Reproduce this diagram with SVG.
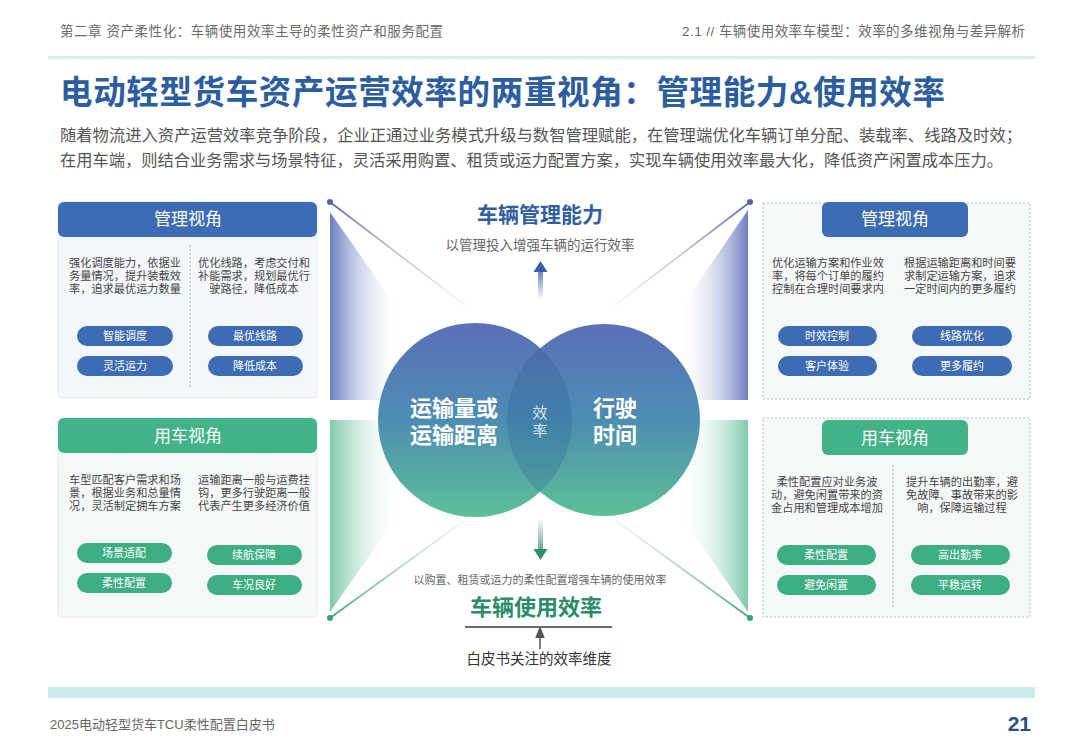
<svg xmlns="http://www.w3.org/2000/svg" width="1080" height="748" viewBox="0 0 1080 748">
<defs>
<style>
text{font-family:"Liberation Sans","Noto Sans CJK SC",sans-serif}
.hdr{font-size:13.5px;fill:#6a6a6a}
.ptxt{font-size:11.2px;fill:#454545;text-anchor:middle}
.phead{font-size:17px;fill:#fff;text-anchor:middle}
.pilltxt{font-size:11px;fill:#fff;text-anchor:middle}
.pb{fill:#3d6cb4}
.pg{fill:#3dae82}
.body{fill:#f3f6fa;stroke:#e5eaf0;stroke-width:1}
.bodyr{fill:#f5f8f8;stroke:#b8bcbc;stroke-width:1;stroke-dasharray:2 2}
.div{stroke:#a8a8a8;stroke-width:1;stroke-dasharray:2 2}
.ctxt{font-size:22px;font-weight:bold;fill:#fff;text-anchor:middle}
</style>
<linearGradient id="circ" x1="0" y1="0" x2="0" y2="1">
<stop offset="0" stop-color="#5b6fb9"/>
<stop offset="0.5" stop-color="#4d8db3"/>
<stop offset="1" stop-color="#5cc096"/>
</linearGradient>
<linearGradient id="wbl" x1="330" y1="0" x2="400" y2="0" gradientUnits="userSpaceOnUse">
<stop offset="0" stop-color="#6d7fc2"/>
<stop offset="1" stop-color="#ffffff" stop-opacity="0"/>
</linearGradient>
<linearGradient id="wbr" x1="748" y1="0" x2="678" y2="0" gradientUnits="userSpaceOnUse">
<stop offset="0" stop-color="#6d7fc2"/>
<stop offset="1" stop-color="#ffffff" stop-opacity="0"/>
</linearGradient>
<linearGradient id="wgl" x1="330" y1="0" x2="400" y2="0" gradientUnits="userSpaceOnUse">
<stop offset="0" stop-color="#7dcaa9"/>
<stop offset="1" stop-color="#ffffff" stop-opacity="0"/>
</linearGradient>
<linearGradient id="wgr" x1="748" y1="0" x2="678" y2="0" gradientUnits="userSpaceOnUse">
<stop offset="0" stop-color="#7dcaa9"/>
<stop offset="1" stop-color="#ffffff" stop-opacity="0"/>
</linearGradient>
<linearGradient id="lnTL" x1="330" y1="202" x2="465" y2="305" gradientUnits="userSpaceOnUse">
<stop offset="0" stop-color="#4d67ad"/>
<stop offset="1" stop-color="#c8cccc" stop-opacity="0.2"/>
</linearGradient>
<linearGradient id="lnTR" x1="750" y1="202" x2="615" y2="305" gradientUnits="userSpaceOnUse">
<stop offset="0" stop-color="#4d67ad"/>
<stop offset="1" stop-color="#c8cccc" stop-opacity="0.2"/>
</linearGradient>
<linearGradient id="lnBL" x1="330" y1="618" x2="465" y2="520" gradientUnits="userSpaceOnUse">
<stop offset="0" stop-color="#35a47b"/>
<stop offset="1" stop-color="#c8cccc" stop-opacity="0.2"/>
</linearGradient>
<linearGradient id="lnBR" x1="750" y1="618" x2="615" y2="520" gradientUnits="userSpaceOnUse">
<stop offset="0" stop-color="#35a47b"/>
<stop offset="1" stop-color="#c8cccc" stop-opacity="0.2"/>
</linearGradient>
<linearGradient id="upa" x1="0" y1="300" x2="0" y2="262" gradientUnits="userSpaceOnUse">
<stop offset="0" stop-color="#ffffff"/>
<stop offset="1" stop-color="#3a5ea8"/>
</linearGradient>
<linearGradient id="dna" x1="0" y1="518" x2="0" y2="560" gradientUnits="userSpaceOnUse">
<stop offset="0" stop-color="#ffffff"/>
<stop offset="1" stop-color="#2f8f68"/>
</linearGradient>
<marker id="ah" viewBox="0 0 10 10" refX="5" refY="5" markerWidth="8" markerHeight="8" orient="auto">
<path d="M0,1 L10,5 L0,9 Z" fill="#555"/>
</marker>
</defs>
<rect width="1080" height="748" fill="#ffffff"/>

<!-- header -->
<g id="page-header">
<text class="hdr" x="60" y="36" textLength="383" lengthAdjust="spacing">第二章  资产柔性化：车辆使用效率主导的柔性资产和服务配置</text>
<text class="hdr" x="682" y="36" textLength="343" lengthAdjust="spacing">2.1 // 车辆使用效率车模型：效率的多维视角与差异解析</text>
<rect x="48" y="56" width="987" height="3" fill="#d6eef1"/>
<text x="60" y="104" font-size="32.5px" font-weight="bold" fill="#2c5d9f" textLength="885" lengthAdjust="spacing">电动轻型货车资产运营效率的两重视角：管理能力&amp;使用效率</text>
<text x="60" y="141" font-size="16.3px" fill="#555" textLength="962" lengthAdjust="spacing">随着物流进入资产运营效率竞争阶段，企业正通过业务模式升级与数智管理赋能，在管理端优化车辆订单分配、装载率、线路及时效；</text>
<text x="60" y="166" font-size="16.3px" fill="#555" textLength="943" lengthAdjust="spacing">在用车端，则结合业务需求与场景特征，灵活采用购置、租赁或运力配置方案，实现车辆使用效率最大化，降低资产闲置成本压力。</text>
</g>

<!-- wedges -->
<g id="wedges">
<polygon points="330,212 400,312 400,400 330,400" fill="url(#wbl)"/>
<polygon points="748,210 748,400 678,400 678,312" fill="url(#wbr)"/>
<polygon points="330,420 400,420 400,512 330,612" fill="url(#wgl)"/>
<polygon points="748,420 678,420 678,512 748,612" fill="url(#wgr)"/>
</g>

<!-- connectors -->
<g id="connectors">
<line x1="330" y1="202" x2="465" y2="305" stroke="url(#lnTL)" stroke-width="1.6"/>
<circle cx="330" cy="202" r="3" fill="#4d67ad"/>
<line x1="750" y1="202" x2="615" y2="305" stroke="url(#lnTR)" stroke-width="1.6"/>
<circle cx="750" cy="202" r="3" fill="#4d67ad"/>
<line x1="330" y1="618" x2="465" y2="520" stroke="url(#lnBL)" stroke-width="1.6"/>
<circle cx="330" cy="618" r="3" fill="#35a47b"/>
<line x1="750" y1="618" x2="615" y2="520" stroke="url(#lnBR)" stroke-width="1.6"/>
<circle cx="750" cy="618" r="3" fill="#35a47b"/>
<rect x="538" y="270" width="5" height="30" fill="url(#upa)"/>
<polygon points="533.5,272 547.5,272 540.5,261" fill="#3a5ea8"/>
<rect x="538" y="518" width="5" height="32" fill="url(#dna)"/>
<polygon points="533.5,549 547.5,549 540.5,560" fill="#2f8f68"/>
<line x1="540" y1="649" x2="540" y2="632" stroke="#555" stroke-width="1.5" marker-end="url(#ah)"/>
</g>

<!-- center venn -->
<g id="venn">
<circle cx="475" cy="420" r="97" fill="url(#circ)"/>
<circle cx="604" cy="420" r="96" fill="url(#circ)"/>
<path d="M539.5,347.6 A97,97 0 0,1 539.5,492.4 A97,97 0 0,1 539.5,347.6 Z" fill="#1d4f8a" fill-opacity="0.22"/>
<text class="ctxt" x="454" y="416">运输量或</text>
<text class="ctxt" x="454" y="443">运输距离</text>
<text class="ctxt" x="615" y="416">行驶</text>
<text class="ctxt" x="615" y="443">时间</text>
<text x="540" y="418" font-size="15px" fill="#d5e6f2" text-anchor="middle">效</text>
<text x="540" y="436" font-size="15px" fill="#d5e6f2" text-anchor="middle">率</text>
</g>

<!-- center top labels -->
<g id="top-label">
<text x="540" y="222" font-size="21px" font-weight="bold" fill="#2f5fa2" text-anchor="middle">车辆管理能力</text>
<text x="540" y="250" font-size="13.5px" fill="#666" text-anchor="middle">以管理投入增强车辆的运行效率</text>
</g>

<!-- center bottom labels -->
<g id="bottom-label">
<text x="540" y="584" font-size="11px" fill="#666" text-anchor="middle">以购置、租赁或运力的柔性配置增强车辆的使用效率</text>
<text x="536" y="615" font-size="22px" font-weight="bold" fill="#2a8c68" text-anchor="middle">车辆使用效率</text>
<line x1="465" y1="627" x2="612" y2="627" stroke="#6a6a6a" stroke-width="1.8"/>
<text x="539" y="664" font-size="14.5px" fill="#333" text-anchor="middle">白皮书关注的效率维度</text>
</g>

<!-- left top panel -->
<g id="panel-lt">
<rect class="body" x="58" y="202" width="259" height="196" rx="4"/>
<rect x="58" y="202" width="259" height="35" rx="6" fill="#3d6cb4"/>
<text class="phead" x="188" y="225">管理视角</text>
<line class="div" x1="190" y1="245" x2="190" y2="388"/>
<text class="ptxt" x="125" y="267">强化调度能力，依据业</text>
<text class="ptxt" x="125" y="280">务量情况，提升装载效</text>
<text class="ptxt" x="125" y="293">率，追求最优运力数量</text>
<text class="ptxt" x="254" y="267">优化线路，考虑交付和</text>
<text class="ptxt" x="254" y="280">补能需求，规划最优行</text>
<text class="ptxt" x="254" y="293">驶路径，降低成本</text>
<rect class="pb" x="77" y="326" width="96" height="20" rx="10"/>
<text class="pilltxt" x="125" y="340">智能调度</text>
<rect class="pb" x="77" y="356" width="96" height="20" rx="10"/>
<text class="pilltxt" x="125" y="370">灵活运力</text>
<rect class="pb" x="208" y="326" width="95" height="20" rx="10"/>
<text class="pilltxt" x="255" y="340">最优线路</text>
<rect class="pb" x="208" y="356" width="95" height="20" rx="10"/>
<text class="pilltxt" x="255" y="370">降低成本</text>
</g>

<!-- left bottom panel -->
<g id="panel-lb">
<rect class="body" x="58" y="418" width="259" height="199" rx="4" style="fill:#f4f8f7"/>
<rect x="58" y="418" width="259" height="35" rx="6" fill="#42b387"/>
<text class="phead" x="188" y="442">用车视角</text>
<text class="ptxt" x="125" y="484">车型匹配客户需求和场</text>
<text class="ptxt" x="125" y="497">景，根据业务和总量情</text>
<text class="ptxt" x="125" y="510">况，灵活制定拥车方案</text>
<text class="ptxt" x="254" y="484">运输距离一般与运费挂</text>
<text class="ptxt" x="254" y="497">钩，更多行驶距离一般</text>
<text class="ptxt" x="254" y="510">代表产生更多经济价值</text>
<rect class="pg" x="77" y="543" width="95" height="20" rx="10"/>
<text class="pilltxt" x="124" y="557">场景适配</text>
<rect class="pg" x="77" y="573" width="95" height="20" rx="10"/>
<text class="pilltxt" x="124" y="587">柔性配置</text>
<rect class="pg" x="207" y="545" width="95" height="20" rx="10"/>
<text class="pilltxt" x="254" y="559">续航保障</text>
<rect class="pg" x="207" y="575" width="95" height="20" rx="10"/>
<text class="pilltxt" x="254" y="589">车况良好</text>
</g>

<!-- right top panel -->
<g id="panel-rt">
<rect class="bodyr" x="763" y="203" width="267" height="196"/>
<rect x="822" y="202" width="146" height="35" rx="6" fill="#3d6cb4"/>
<text class="phead" x="895" y="225">管理视角</text>
<text class="ptxt" x="828" y="267">优化运输方案和作业效</text>
<text class="ptxt" x="828" y="280">率，将每个订单的履约</text>
<text class="ptxt" x="828" y="293">控制在合理时间要求内</text>
<text class="ptxt" x="960" y="267">根据运输距离和时间要</text>
<text class="ptxt" x="960" y="280">求制定运输方案，追求</text>
<text class="ptxt" x="960" y="293">一定时间内的更多履约</text>
<rect class="pb" x="778" y="326" width="99" height="20" rx="10"/>
<text class="pilltxt" x="827" y="340">时效控制</text>
<rect class="pb" x="778" y="356" width="99" height="20" rx="10"/>
<text class="pilltxt" x="827" y="370">客户体验</text>
<rect class="pb" x="912" y="326" width="100" height="20" rx="10"/>
<text class="pilltxt" x="962" y="340">线路优化</text>
<rect class="pb" x="912" y="356" width="100" height="20" rx="10"/>
<text class="pilltxt" x="962" y="370">更多履约</text>
</g>

<!-- right bottom panel -->
<g id="panel-rb">
<rect class="bodyr" x="763" y="418" width="267" height="199"/>
<rect x="822" y="420" width="146" height="35" rx="6" fill="#42b387"/>
<text class="phead" x="895" y="444">用车视角</text>
<line class="div" x1="893" y1="465" x2="893" y2="607"/>
<text class="ptxt" x="827" y="486">柔性配置应对业务波</text>
<text class="ptxt" x="827" y="499">动，避免闲置带来的资</text>
<text class="ptxt" x="827" y="512">金占用和管理成本增加</text>
<text class="ptxt" x="962" y="486">提升车辆的出勤率，避</text>
<text class="ptxt" x="962" y="499">免故障、事故带来的影</text>
<text class="ptxt" x="962" y="512">响，保障运输过程</text>
<rect class="pg" x="777" y="545" width="99" height="20" rx="10"/>
<text class="pilltxt" x="826" y="559">柔性配置</text>
<rect class="pg" x="777" y="575" width="99" height="20" rx="10"/>
<text class="pilltxt" x="826" y="589">避免闲置</text>
<rect class="pg" x="911" y="545" width="99" height="20" rx="10"/>
<text class="pilltxt" x="960" y="559">高出勤率</text>
<rect class="pg" x="911" y="575" width="99" height="20" rx="10"/>
<text class="pilltxt" x="960" y="589">平稳运转</text>
</g>

<!-- footer -->
<g id="footer">
<rect x="48" y="687" width="987" height="11" fill="#cde9ec"/>
<text x="50" y="729" font-size="13px" fill="#666">2025电动轻型货车TCU柔性配置白皮书</text>
<text x="1031" y="731" font-size="21px" font-weight="bold" fill="#2d4f80" text-anchor="end">21</text>
</g>
</svg>
